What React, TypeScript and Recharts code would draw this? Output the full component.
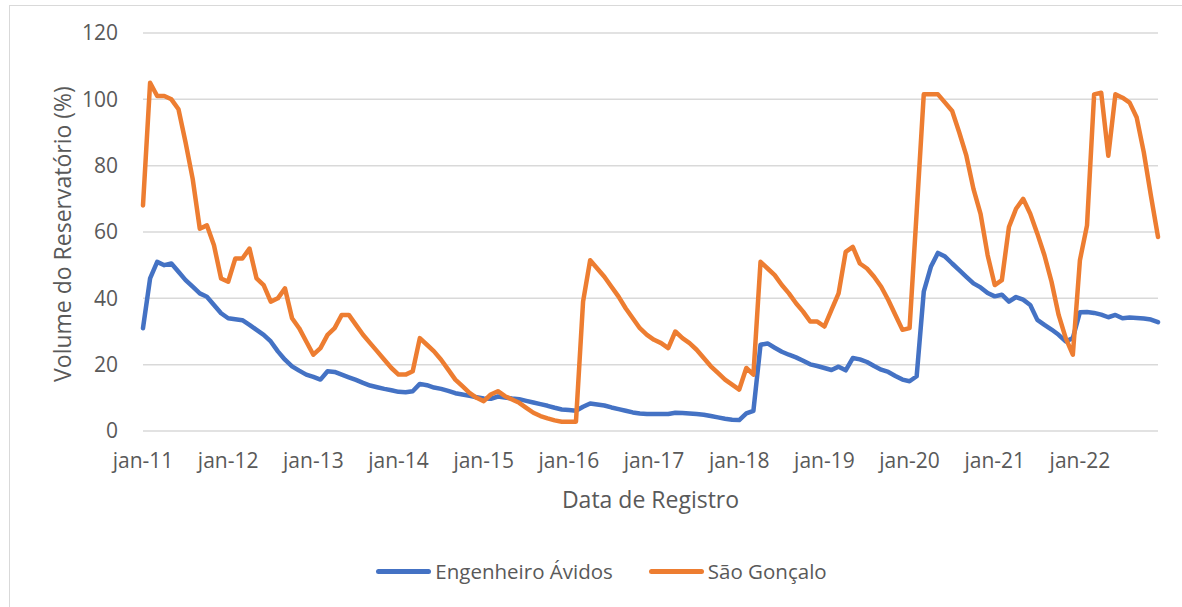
import { LineChart, Line, XAxis, YAxis, CartesianGrid } from 'recharts'

// ── Data (monthly, jan-2011 .. dec-2022) ──────────────────────────────────────

const TICK_LABELS = [
  'jan-11', 'jan-12', 'jan-13', 'jan-14', 'jan-15', 'jan-16',
  'jan-17', 'jan-18', 'jan-19', 'jan-20', 'jan-21', 'jan-22',
]

const Y_TICKS = [0, 20, 40, 60, 80, 100, 120]

// Engenheiro Ávidos (%)
const ENGENHEIRO_AVIDOS = [
  31, 46, 51, 50, 50.5, 48, 45.5, 43.5, 41.5, 40.5, 38, 35.5,
  34, 33.7, 33.4, 32, 30.5, 29, 27, 24, 21.5, 19.5, 18.2, 17,
  16.3, 15.5, 18, 17.8, 17, 16.2, 15.4, 14.5, 13.7, 13.2, 12.7, 12.3,
  11.8, 11.7, 12, 14.2, 13.8, 13.1, 12.7, 12.1, 11.4, 11, 10.6, 10.2,
  9.8, 9.7, 10.4, 10.1, 9.8, 9.6, 9.1, 8.6, 8.1, 7.6, 7.0, 6.5,
  6.3, 6.1, 7.3, 8.3, 8.0, 7.7, 7.1, 6.6, 6.1, 5.6, 5.3, 5.1,
  5.1, 5.1, 5.1, 5.5, 5.4, 5.3, 5.1, 4.9, 4.5, 4.1, 3.7, 3.4,
  3.3, 5.3, 6.1, 26, 26.4, 25.1, 23.9, 23, 22.2, 21.2, 20.1, 19.6,
  19, 18.4, 19.4, 18.3, 22, 21.6, 20.8, 19.6, 18.5, 17.8, 16.6, 15.5,
  15, 16.5, 42, 49.5, 53.7, 52.6, 50.5, 48.5, 46.5, 44.5, 43.3, 41.6,
  40.6, 41.1, 39, 40.4, 39.6, 38, 33.5, 32, 30.6, 29, 27, 28,
  35.8, 35.9, 35.6, 35.1, 34.3, 35, 34, 34.2, 34.1, 33.9, 33.6, 32.8,
]

// São Gonçalo (%)
const SAO_GONCALO = [
  68, 105, 101, 101, 100, 97, 87, 76, 61, 62, 56, 46,
  45, 52, 52, 55, 46, 44, 39, 40, 43, 34, 31, 27,
  23, 25, 29, 31, 35, 35, 32, 29, 26.5, 24, 21.5, 19,
  17, 17, 18, 28, 26, 24, 21.5, 18.5, 15.5, 13.5, 11.5, 10,
  9, 11, 12, 10.5, 9.5, 8.5, 7, 5.5, 4.5, 3.8, 3.2, 2.8,
  2.8, 2.8, 39, 51.5, 49, 46.5, 43.5, 40.5, 37, 34, 31, 29,
  27.5, 26.5, 25, 30, 28, 26.5, 24.5, 22, 19.5, 17.5, 15.5, 14,
  12.5, 19, 17, 51, 49, 47, 44, 41.5, 38.5, 36, 33, 33,
  31.5, 36.5, 41.5, 54, 55.5, 50.5, 49, 46.5, 43.5, 39.5, 35, 30.5,
  31, 66, 101.5, 101.5, 101.5, 99, 96.5, 90, 83, 73, 65.5, 53,
  44, 45.5, 61.5, 67, 70, 65.5, 59.5, 53, 45, 35, 28, 23,
  51.5, 62, 101.5, 102, 83, 101.5, 100.5, 99, 94.5, 84, 71, 58.5,
]

const SERIES = [
  { key: 'ea', name: 'Engenheiro Ávidos', color: '#4472C4' },
  { key: 'sg', name: 'São Gonçalo', color: '#ED7D31' },
]

const data = SAO_GONCALO.map((sg, i) => ({ idx: i, sg, ea: ENGENHEIRO_AVIDOS[i] }))
const tickIndex = TICK_LABELS.map((_, i) => i * 12)

const FONT = '"Open Sans", sans-serif'
const TEXT = '#595959'
const GRID = '#d9d9d9'

function ChartLegend() {
  return (
    <div
      style={{
        position: 'absolute', left: 0, top: 557, width: 1203,
        display: 'flex', justifyContent: 'center', gap: 36,
        fontSize: 20.5, color: TEXT, lineHeight: '28px',
      }}
    >
      {SERIES.map(s => (
        <div key={s.key} style={{ display: 'flex', alignItems: 'center', gap: 4 }}>
          <div style={{ width: 55, height: 5, borderRadius: 3, background: s.color }} />
          <span>{s.name}</span>
        </div>
      ))}
    </div>
  )
}

export default function App() {
  return (
    <div
      style={{
        position: 'fixed', left: 0, top: 0, width: 1182, height: 607,
        overflow: 'hidden', background: '#fff', fontFamily: FONT,
      }}
    >
      {/* chart area border (only left/top edges visible) */}
      <div
        style={{
          position: 'absolute', left: 9, top: 5, width: 1200, height: 620,
          borderLeft: `1px solid ${GRID}`, borderTop: `1px solid ${GRID}`,
        }}
      />

      <div style={{ position: 'absolute', left: 0, top: 0 }}>
        <LineChart width={1182} height={607} data={data} margin={{ top: 33, right: 24, bottom: 146, left: 0 }}>
          <CartesianGrid vertical={false} stroke={GRID} strokeWidth={1.5} />
          <XAxis
            dataKey="idx"
            type="number"
            domain={[0, 143]}
            ticks={tickIndex}
            tickFormatter={(v: number) => TICK_LABELS[v / 12] ?? ''}
            height={30}
            axisLine={false}
            tickLine={false}
            tickSize={0}
            tickMargin={22}
            tick={{ fontSize: 21, fill: TEXT, fontFamily: FONT }}
            interval={0}
          />
          <YAxis
            domain={[0, 120]}
            ticks={Y_TICKS}
            width={143}
            axisLine={false}
            tickLine={false}
            tickSize={0}
            tickMargin={25}
            tick={{ fontSize: 21, fill: TEXT, fontFamily: FONT }}
          />
          {SERIES.map(s => (
            <Line
              key={s.key}
              dataKey={s.key}
              name={s.name}
              stroke={s.color}
              strokeWidth={4.5}
              strokeLinejoin="round"
              strokeLinecap="round"
              dot={false}
              activeDot={false}
              type="linear"
              isAnimationActive={false}
            />
          ))}
        </LineChart>
      </div>

      {/* axis titles */}
      <div
        style={{
          position: 'absolute', left: 143, width: 1015, top: 484, textAlign: 'center',
          fontSize: 23, color: TEXT, lineHeight: '30px',
        }}
      >
        Data de Registro
      </div>
      <div
        style={{
          position: 'absolute', left: 62, top: 234, width: 400, marginLeft: -200, marginTop: -15,
          textAlign: 'center', fontSize: 23, color: TEXT, lineHeight: '30px',
          transform: 'rotate(-90deg)',
        }}
      >
        Volume do Reservatório (%)
      </div>

      <ChartLegend />
    </div>
  )
}
